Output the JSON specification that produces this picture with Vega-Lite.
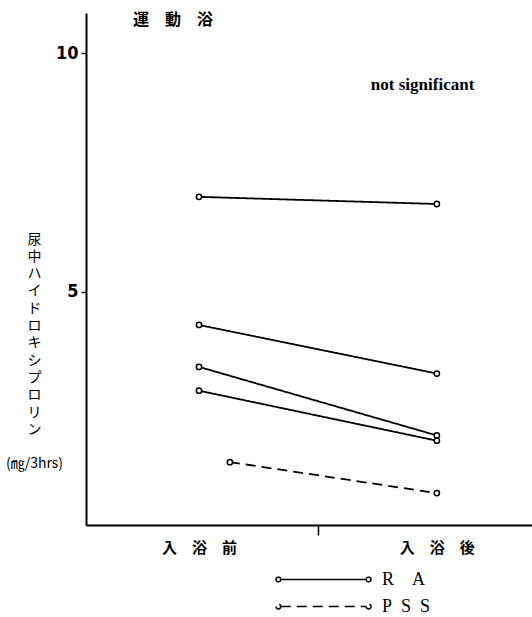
{
  "$schema": "https://vega.github.io/schema/vega-lite/v6.json",
  "width": 446,
  "height": 512,
  "autosize": {"type": "none"},
  "padding": {"left": 86, "top": 13, "right": 0, "bottom": 92},
  "background": "white",
  "title": {"text": "運　動　浴", "anchor": "start", "orient": "top", "frame": "group", "dx": 47, "dy": 15, "offset": 0, "baseline": "top", "font": "Noto Sans CJK JP", "fontSize": 16, "fontWeight": "bold", "color": "black"},
  "config": {
    "view": {"stroke": null},
    "axis": {"grid": false, "domainColor": "black", "tickColor": "black", "labelColor": "black", "titleColor": "black"}
  },
  "data": {
    "values": [
      {"subject": "RA1", "group": "RA", "t": 1, "value": 6.99},
      {"subject": "RA1", "group": "RA", "t": 2, "value": 6.84},
      {"subject": "RA2", "group": "RA", "t": 1, "value": 4.30},
      {"subject": "RA2", "group": "RA", "t": 2, "value": 3.28},
      {"subject": "RA3", "group": "RA", "t": 1, "value": 3.42},
      {"subject": "RA3", "group": "RA", "t": 2, "value": 1.98},
      {"subject": "RA4", "group": "RA", "t": 1, "value": 2.92},
      {"subject": "RA4", "group": "RA", "t": 2, "value": 1.87},
      {"subject": "PSS1", "group": "PSS", "t": 1.13, "value": 1.42},
      {"subject": "PSS1", "group": "PSS", "t": 2, "value": 0.77}
    ]
  },
  "layer": [
    {
      "mark": {"type": "line", "color": "black", "strokeWidth": 1.8, "clip": false},
      "encoding": {
        "x": {"field": "t", "type": "quantitative", "scale": {"domain": [0.525, 2.4], "nice": false, "zero": false},
          "axis": {"values": [1, 1.5, 2], "title": null, "labelAngle": 0,
            "labelExpr": "datum.value == 1 ? '入　浴　前' : datum.value == 2 ? '入　浴　後' : ''",
            "labelFont": "Noto Sans CJK JP", "labelFontSize": 15, "labelFontWeight": "bold", "labelPadding": 5,
            "tickSize": 10, "tickWidth": 1.5, "domainWidth": 2,
            "tickColor": {"condition": {"test": "datum.value == 1.5", "value": "black"}, "value": "transparent"}}},
        "y": {"field": "value", "type": "quantitative", "scale": {"domain": [0.1, 10.85], "nice": false, "zero": false},
          "axis": {"values": [5, 10], "tickSize": 5, "tickWidth": 1.5, "domainWidth": 2,
            "labelFont": "Liberation Sans Narrow, DejaVu Sans Condensed, Liberation Sans", "labelFontSize": 18, "labelFontWeight": "bold", "labelPadding": 3,
            "title": ["尿", "中", "ハ", "イ", "ド", "ロ", "キ", "シ", "プ", "ロ", "リ", "ン", "\u200b", "(㎎/3hrs)"],
            "titleAngle": 0, "titleX": -52, "titleY": 219, "titleBaseline": "top", "titleAlign": "center",
            "titleFont": "Noto Sans CJK JP", "titleFontSize": 14, "titleFontWeight": "normal", "titleLineHeight": 17.3}},
        "detail": {"field": "subject"},
        "strokeDash": {"field": "group", "type": "nominal",
          "scale": {"domain": ["RA", "PSS"], "range": [[1, 0], [10, 6]]},
          "legend": {"orient": "none", "legendX": 189, "legendY": 553, "title": null, "padding": 0, "rowPadding": 0,
            "symbolType": "M-1,0a0.05,0.05 0 1,0 0.1,0a0.05,0.05 0 1,0 -0.1,0M-0.9,0L0.9,0M0.9,0a0.05,0.05 0 1,0 0.1,0a0.05,0.05 0 1,0 -0.1,0",
            "symbolSize": 9025, "symbolStrokeColor": "black", "symbolStrokeWidth": 1.5, "symbolFillColor": "white",
            "clipHeight": 27,
            "labelExpr": "datum.label == 'RA' ? 'R\u2003A' : 'P\u2002S\u2002S'",
            "labelFont": "Liberation Serif", "labelFontSize": 18, "labelColor": "black", "labelOffset": 10}}
      }
    },
    {
      "mark": {"type": "point", "shape": "circle", "filled": true, "fill": "white", "stroke": "black", "strokeWidth": 1.5, "size": 28, "opacity": 1},
      "encoding": {
        "x": {"field": "t", "type": "quantitative"},
        "y": {"field": "value", "type": "quantitative"}
      }
    },
    {
      "data": {"values": [{"t": 1.94, "value": 9.34, "label": "not significant"}]},
      "mark": {"type": "text", "font": "Liberation Serif", "fontSize": 17, "fontWeight": "bold", "color": "black"},
      "encoding": {
        "x": {"field": "t", "type": "quantitative"},
        "y": {"field": "value", "type": "quantitative"},
        "text": {"field": "label"}
      }
    }
  ]
}
